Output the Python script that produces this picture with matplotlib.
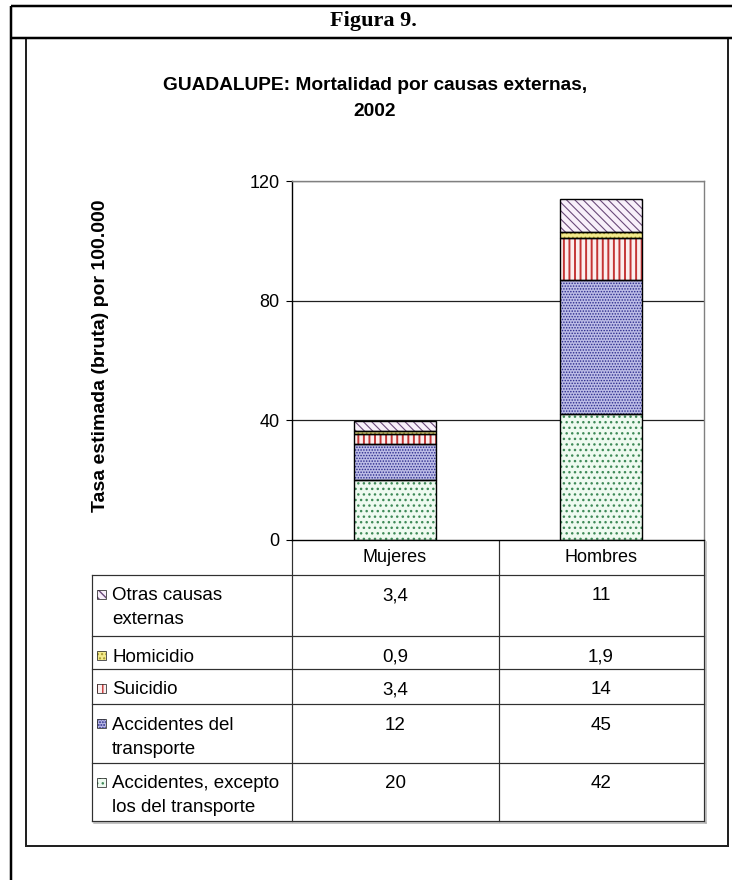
import matplotlib.pyplot as plt
import matplotlib.transforms as mtransforms
from matplotlib.patches import Rectangle

plt.rcParams['font.family'] = ['Liberation Sans', 'DejaVu Sans']

categories = ["Mujeres", "Hombres"]
causes = ["Accidentes, excepto\nlos del transporte",
          "Accidentes del\ntransporte",
          "Suicidio",
          "Homicidio",
          "Otras causas\nexternas"]
accidentes = [20, 42]
transporte = [12, 45]
suicidio = [3.4, 14]
homicidio = [0.9, 1.9]
otras = [3.4, 11]
series = [accidentes, transporte, suicidio, homicidio, otras]

value_labels = [["20", "42"], ["12", "45"], ["3,4", "14"], ["0,9", "1,9"], ["3,4", "11"]]
yticks = [0, 40, 80, 120]

# face colour, hatch, hatch colour, hatch width for each cause
styles = [
    ("#eefaf0", "...", "#3f8a58", 1.0),
    ("#bcbce6", "......", "#2a2a8c", 0.7),
    ("#fbeeee", "|||", "#c43535", 1.4),
    ("#f3ea8c", "....", "#a89a30", 0.7),
    ("#f8f0fa", "\\\\\\\\", "#6a4a7a", 0.8),
]

W, H = 732, 880
fig = plt.figure(figsize=(W / 100, H / 100), dpi=100)

# full-figure axes in pixel units for the frame and the data table
bg = fig.add_axes([0, 0, 1, 1])
bg.set_xlim(0, W)
bg.set_ylim(H, 0)
bg.axis("off")

px = 0.72  # one pixel in points

# outer document frame
bg.plot([11, W + 5], [6, 6], color="black", lw=2.5 * px, solid_capstyle="butt")
bg.plot([11, 11], [6, H], color="black", lw=2.5 * px, solid_capstyle="butt")
bg.plot([11, W + 5], [38, 38], color="black", lw=2.5 * px, solid_capstyle="butt")
bg.text(373, 21, "Figura 9.", ha="center", va="center", fontsize=16,
        fontweight="bold", family="Liberation Serif")

# chart frame
bg.add_patch(Rectangle((26, 38), 702, 808, fill=False, edgecolor="#222222", lw=2 * px))

# chart title and y label
bg.text(375, 86, "GUADALUPE: Mortalidad por causas externas,", ha="center", va="center",
        fontsize=13.8, fontweight="bold")
bg.text(375, 111, "2002", ha="center", va="center", fontsize=13.8, fontweight="bold")
bg.text(101, 356, "Tasa estimada (bruta) por 100.000", ha="center", va="center",
        rotation=90, fontsize=14, fontweight="bold")

# plot area
left, right, top, bottom = 292, 704, 181, 540
ax = fig.add_axes([left / W, 1 - bottom / H, (right - left) / W, (bottom - top) / H])
ax.set_xlim(-0.5, 1.5)
ax.set_ylim(0, 120)
ax.set_yticks(yticks)
ax.set_xticks([])
ax.tick_params(axis="y", direction="out", length=4, width=0.8, pad=5, labelsize=13)
for y in yticks[1:]:
    ax.axhline(y, color="#202020", lw=0.9, zorder=1)
for side in ("top", "right"):
    ax.spines[side].set_color("#808080")
    ax.spines[side].set_linewidth(1)
ax.spines["left"].set_linewidth(1)
ax.spines["bottom"].set_linewidth(1)

x = range(len(categories))
base = [0, 0]
bar_w = 0.4
for vals, (face, hatch, hcol, hlw) in zip(series, styles):
    ax.bar(x, vals, bar_w, bottom=base, color=face, edgecolor="none", zorder=2)
    with plt.rc_context({"hatch.linewidth": hlw}):
        ax.bar(x, vals, bar_w, bottom=base, fill=False, hatch=hatch, edgecolor=hcol,
               lw=0, zorder=3)
    ax.bar(x, vals, bar_w, bottom=base, fill=False, edgecolor="black", lw=1, zorder=4)
    base = [b + v for b, v in zip(base, vals)]

# data table under the plot; x follows the category axis, y is in pixels
tt = mtransforms.blended_transform_factory(ax.transData, bg.transData)
line_c = "#303030"
tab_left, cat_top, tab_top = 92, 540, 575
row_h = [61, 33, 35, 59, 58]
tab_bottom = tab_top + sum(row_h)

# shadow
bg.plot([right + 2, right + 2], [cat_top + 2, tab_bottom + 2], color="#b0b0b0", lw=1.5 * px)
bg.plot([tab_left + 2, right + 2], [tab_bottom + 2, tab_bottom + 2], color="#b0b0b0",
        lw=1.5 * px)

for xv in (left, 499, right):
    bg.plot([xv, xv], [cat_top, tab_bottom], color=line_c, lw=1.2 * px)
bg.plot([tab_left, tab_left], [tab_top, tab_bottom], color=line_c, lw=1.2 * px)
for i, c in enumerate(categories):
    bg.text(i, (cat_top + tab_top) / 2, c, transform=tt, ha="center", va="center",
            fontsize=13)

# rows from the top: reverse stacking order
y0 = tab_top
bg.plot([tab_left, right], [y0, y0], color=line_c, lw=1.2 * px)
for k, h in zip(range(len(causes) - 1, -1, -1), row_h):
    face, hatch, hcol, hlw = styles[k]
    base_y = y0 + 25.5
    bg.add_patch(Rectangle((97, base_y - 10), 9, 9, facecolor=face, edgecolor="none"))
    bg.add_patch(Rectangle((97, base_y - 10), 9, 9, fill=False, hatch=hatch,
                           edgecolor=hcol, lw=0))
    bg.add_patch(Rectangle((97, base_y - 10), 9, 9, fill=False, edgecolor="#303030",
                           lw=0.8 * px))
    for j, line in enumerate(causes[k].split("\n")):
        bg.text(112, base_y + 24 * j, line, ha="left", va="baseline", fontsize=13.5)
    for i in range(len(categories)):
        bg.text(i, base_y, value_labels[k][i], transform=tt, ha="center",
                va="baseline", fontsize=13.5)
    y0 += h
    bg.plot([tab_left, right], [y0, y0], color=line_c, lw=1.2 * px)

fig.savefig("out.png", dpi=100)
